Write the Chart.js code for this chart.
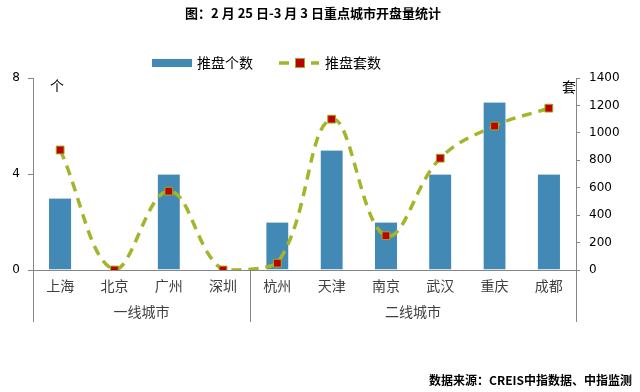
<!DOCTYPE html>
<html>
<head>
<meta charset="utf-8">
<script src="https://cdn.jsdelivr.net/npm/chart.js@4.4.0/dist/chart.umd.min.js"></script>
<style>
	html, body { margin: 0; padding: 0; background: #fff; }
	#wrap { width: 640px; height: 392px; }
</style>
</head>
<body>
<div id="wrap"><canvas id="openChart" width="640" height="392"></canvas></div>
<script>
var cities = ["上海", "北京", "广州", "深圳", "杭州", "天津", "南京", "武汉", "重庆", "成都"];
var groups = ["一线城市", "二线城市"];
var groupSizes = [4, 6];
var projects = [3, 0, 4, 0, 2, 5, 2, 4, 7, 4];
var units = [875, 0, 575, 0, 50, 1100, 250, 815, 1050, 1180];
var leftTicks = [0, 4, 8];
var rightTicks = [0, 200, 400, 600, 800, 1000, 1200, 1400];

var barColor = "#4289b5";
var lineColor = "#a5b52a";
var axisColor = "#868686";
var cjk = "'Noto Sans CJK SC', sans-serif";

var deco = {
	id: 'deco',
	afterDraw: function (chart) {
		var ctx = chart.ctx;
		var area = chart.chartArea;
		var xs = chart.scales.x;
		ctx.save();

		// title
		ctx.fillStyle = "#000";
		ctx.font = "bold 13px " + cjk;
		ctx.textAlign = "center";
		ctx.textBaseline = "middle";
		ctx.fillText("图：2 月 25 日-3 月 3 日重点城市开盘量统计", 313, 13);

		// legend
		ctx.fillStyle = barColor;
		ctx.fillRect(152, 59, 40, 8);
		ctx.fillStyle = "#000";
		ctx.font = "14px " + cjk;
		ctx.textAlign = "left";
		ctx.fillText("推盘个数", 197, 63);
		ctx.strokeStyle = lineColor;
		ctx.lineWidth = 3.5;
		ctx.setLineDash([10, 6]);
		ctx.beginPath();
		ctx.moveTo(279, 63);
		ctx.lineTo(319, 63);
		ctx.stroke();
		ctx.setLineDash([]);
		ctx.fillStyle = "#c00000";
		ctx.fillRect(295, 58, 10, 10);
		ctx.strokeStyle = "#9bad1c";
		ctx.lineWidth = 1;
		ctx.strokeRect(295.5, 58.5, 9, 9);
		ctx.fillStyle = "#000";
		ctx.fillText("推盘套数", 325, 63);

		// unit labels
		ctx.font = "14px " + cjk;
		ctx.textAlign = "center";
		ctx.fillText("个", 57, 86);
		ctx.fillText("套", 569, 87);

		// group separators
		ctx.strokeStyle = axisColor;
		ctx.lineWidth = 1;
		var bottom = 322;
		var sepX = [area.left];
		var start = 0;
		for (var g = 0; g < groups.length; g++) {
			var end = start + groupSizes[g] - 1;
			var right = g === groups.length - 1 ? area.right :
				(xs.getPixelForValue(end) + xs.getPixelForValue(end + 1)) / 2;
			sepX.push(right);
			ctx.fillStyle = "#404040";
			ctx.font = "14px " + cjk;
			ctx.fillText(groups[g], (xs.getPixelForValue(start) + xs.getPixelForValue(end)) / 2, 312);
			start = end + 1;
		}
		sepX.forEach(function (x) {
			x = Math.round(x) + 0.5;
			ctx.beginPath();
			ctx.moveTo(x, area.bottom);
			ctx.lineTo(x, bottom);
			ctx.stroke();
		});

		// source
		ctx.fillStyle = "#000";
		ctx.font = "bold 12px " + cjk;
		ctx.textAlign = "right";
		ctx.fillText("数据来源：CREIS中指数据、中指监测", 632, 380);
		ctx.restore();
	}
};

var ctx = document.getElementById("openChart");
var chart = new Chart(ctx, {
	type: 'bar',
	data: {
		labels: cities,
		datasets: [{
			type: 'line',
			label: '推盘套数',
			data: units,
			yAxisID: 'y1',
			order: 0,
			borderColor: lineColor,
			borderWidth: 3.5,
			borderDash: [10, 7],
			tension: 0.4,
			pointStyle: 'rect',
			pointRadius: 5.5,
			pointBackgroundColor: "#c00000",
			pointBorderColor: "#9bad1c",
			pointBorderWidth: 1,
			fill: false
		}, {
			type: 'bar',
			label: '推盘个数',
			data: projects,
			yAxisID: 'y',
			order: 1,
			backgroundColor: barColor,
			borderColor: "#b8cde0",
			borderWidth: { top: 1, left: 0, right: 0, bottom: 0 },
			borderSkipped: 'bottom',
			barPercentage: 0.41,
			categoryPercentage: 1
		}]
	},
	options: {
		responsive: false,
		animation: false,
		layout: { padding: { top: 78, left: 0, right: 0, bottom: 0 } },
		plugins: {
			legend: { display: false },
			title: { display: false },
			tooltip: { enabled: false }
		},
		scales: {
			x: {
				grid: { display: false, drawTicks: false },
				border: { color: axisColor },
				ticks: { color: "#404040", font: { family: cjk, size: 14 }, padding: 7, maxRotation: 0, autoSkip: false },
				afterFit: function (s) { s.height = 122; }
			},
			y: {
				position: 'left',
				min: 0,
				max: 8,
				afterBuildTicks: function (s) { s.ticks = leftTicks.map(function (v) { return { value: v }; }); },
				grid: { drawOnChartArea: false, tickLength: 5, color: axisColor },
				border: { color: axisColor },
				ticks: { color: "#000", font: { family: "'DejaVu Sans'", size: 12 }, padding: 8,
					callback: function (v) { return String(v); } },
				afterFit: function (s) { s.width = 33; }
			},
			y1: {
				position: 'right',
				min: 0,
				max: 1400,
				afterBuildTicks: function (s) { s.ticks = rightTicks.map(function (v) { return { value: v }; }); },
				grid: { drawOnChartArea: false, tickLength: 4, color: axisColor },
				border: { color: axisColor },
				ticks: { color: "#000", font: { family: "'DejaVu Sans'", size: 12 }, padding: 9,
					callback: function (v) { return String(v); } },
				afterFit: function (s) { s.width = 64; }
			}
		}
	},
	plugins: [deco]
});
</script>
</body>
</html>
